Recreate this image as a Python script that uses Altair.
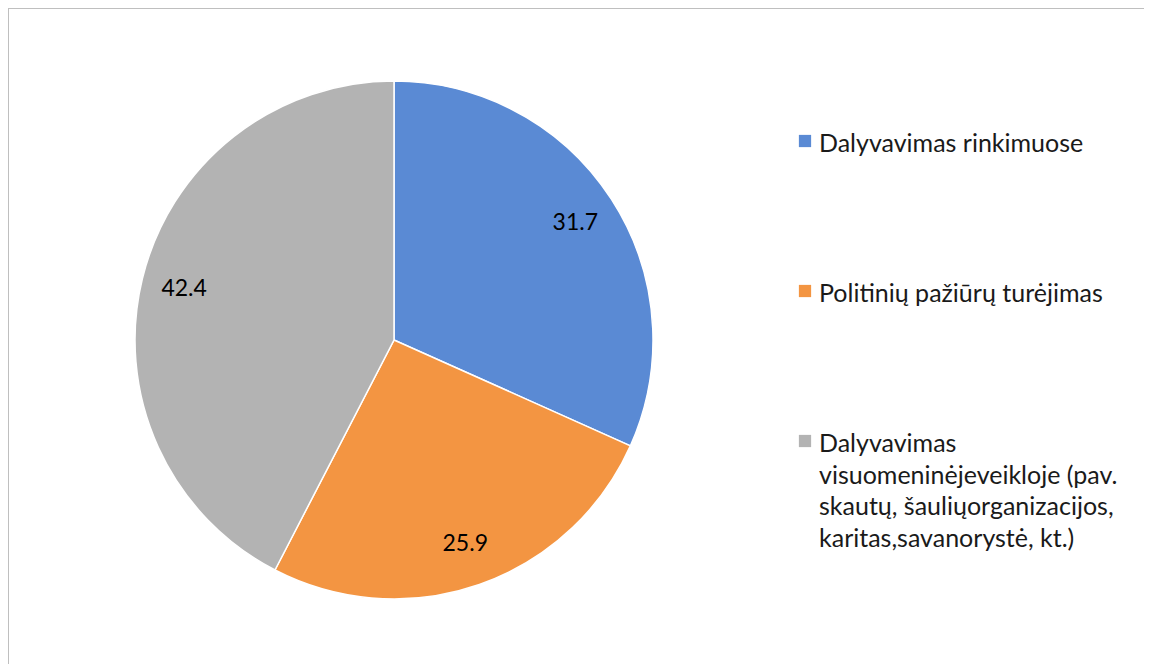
import altair as alt
import pandas as pd

categories = [
    "Dalyvavimas rinkimuose",
    "Politinių pažiūrų turėjimas",
    "Dalyvavimas\nvisuomeninėjeveikloje (pav.\nskautų, šauliųorganizacijos,\nkaritas,savanorystė, kt.)",
]
values = [31.7, 25.9, 42.4]
value_labels = ["31.7", "25.9", "42.4"]
colors = ["#5A8AD4", "#F39542", "#B3B3B3"]
order = [0, 1, 2]

df = pd.DataFrame({
    "category": categories,
    "value": values,
    "label": value_labels,
    "order": order,
    "row": order,
})

W, H = 1136, 656
CX, CY = 386, 332
R = 259
FONT = "Lato"

color_scale = alt.Scale(domain=categories, range=colors)
row_scale = alt.Scale(domain=[0, 2], range=[133, 433])

base = alt.Chart(df)

pie = base.mark_arc(outerRadius=R, stroke="white", strokeWidth=1.5).encode(
    theta=alt.Theta("value:Q", stack=True),
    color=alt.Color("category:N", scale=color_scale, legend=None),
    order=alt.Order("order:Q"),
    x=alt.value(CX),
    y=alt.value(CY),
)

pie_labels = base.mark_text(radius=216, fontSize=23, font=FONT, color="#000000").encode(
    theta=alt.Theta("value:Q", stack=True),
    detail="category:N",
    order=alt.Order("order:Q"),
    text="label:N",
    x=alt.value(CX),
    y=alt.value(CY),
)

leg_sq = base.mark_square(size=150, opacity=1).encode(
    x=alt.value(797),
    y=alt.Y("row:Q", scale=row_scale, axis=None),
    color=alt.Color("category:N", scale=color_scale, legend=None),
)

leg_txt = base.mark_text(
    align="left", baseline="alphabetic", lineBreak="\n", lineHeight=31.5,
    fontSize=25, font=FONT, dy=11, color="#1a1a1a",
).encode(
    x=alt.value(811),
    y=alt.Y("row:Q", scale=row_scale, axis=None),
    text="category:N",
)

frame_df = pd.DataFrame({"a": [0]})
frame = alt.Chart(frame_df).mark_rect(
    fill=None, stroke="#BFBFBF", strokeWidth=2, fillOpacity=0
).encode(
    x=alt.value(0), x2=alt.value(W + 40), y=alt.value(0), y2=alt.value(H + 40)
)

chart = alt.layer(frame, pie, pie_labels, leg_sq, leg_txt).properties(
    width=W, height=H, padding=0, background="white",
    autosize=alt.AutoSizeParams(type="none"),
).configure_view(stroke=None)

chart.save("out.html", embed_options={"renderer": "svg", "actions": False})
